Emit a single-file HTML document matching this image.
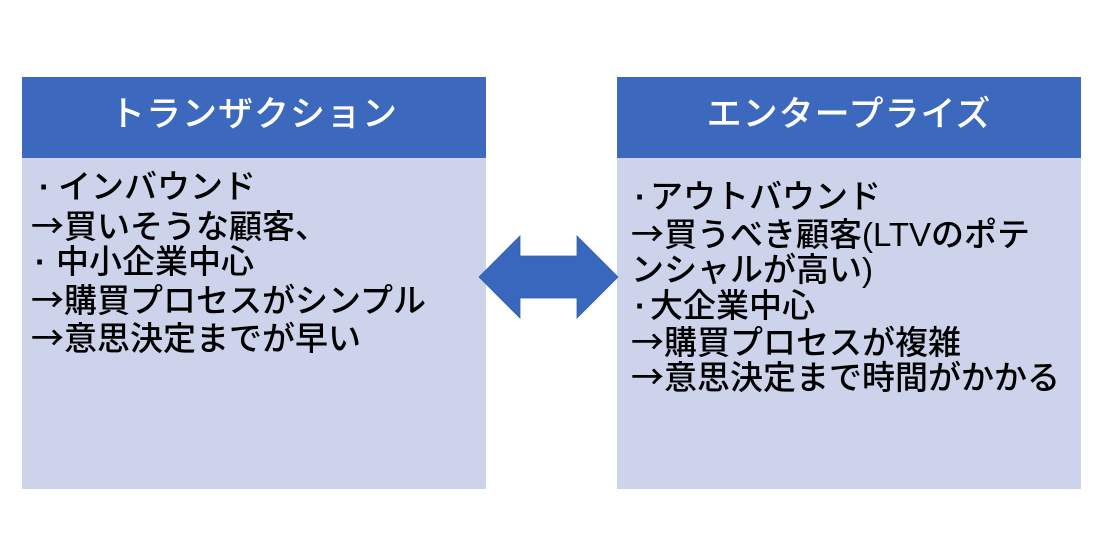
<!DOCTYPE html>
<html>
<head>
<meta charset="utf-8">
<style>
  html,body{margin:0;padding:0;}
  body{width:1110px;height:533px;background:#ffffff;position:relative;overflow:hidden;
       font-family:"Liberation Sans","Noto Sans CJK JP",sans-serif;}
  .hdr{position:absolute;background:#3C68BD;}
  .bdy{position:absolute;background:#CCD3EA;}
  .ttl{position:absolute;color:#ffffff;font-size:35px;line-height:40px;height:40px;font-weight:500;
       text-align:center;letter-spacing:1px;white-space:nowrap;}
  .ln{position:absolute;font-size:33px;line-height:37px;height:37px;color:#000;font-weight:500;
      white-space:nowrap;}
  .d{display:inline-block;box-sizing:border-box;vertical-align:baseline;font-weight:700;}
  .ar{font-family:"Noto Sans CJK JP",sans-serif;}
</style>
</head>
<body>
  <!-- Left box -->
  <div class="hdr" style="left:22px;top:77px;width:464px;height:81px;"></div>
  <div class="bdy" style="left:22px;top:158px;width:464px;height:331px;"></div>
  <div class="ttl" style="left:22px;top:95px;width:464px;">トランザクション</div>

  <div class="ln" style="left:31px;top:168px;"><span class="d" style="width:27px;padding-left:8px;">·</span>インバウンド</div>
  <div class="ln" style="left:31px;top:206px;"><span class="ar">→</span>買いそうな顧客、</div>
  <div class="ln" style="left:31px;top:243px;"><span class="d" style="width:25px;padding-left:4px;">·</span>中小企業中心</div>
  <div class="ln" style="left:31px;top:280px;"><span class="ar">→</span>購買プロセスがシンプル</div>
  <div class="ln" style="left:31px;top:318px;"><span class="ar">→</span>意思決定までが早い</div>

  <!-- Right box -->
  <div class="hdr" style="left:617px;top:77px;width:464px;height:81px;"></div>
  <div class="bdy" style="left:617px;top:158px;width:464px;height:331px;"></div>
  <div class="ttl" style="left:617px;top:95px;width:464px;">エンタープライズ</div>

  <div class="ln" style="left:631px;top:178px;"><span class="d" style="width:19px;padding-left:4px;">·</span>アウトバウンド</div>
  <div class="ln" style="left:631px;top:214px;"><span class="ar">→</span>買うべき顧客(LTVのポテ</div>
  <div class="ln" style="left:631px;top:251px;">ンシャルが高い)</div>
  <div class="ln" style="left:631px;top:287px;"><span class="d" style="width:19px;padding-left:4px;">·</span>大企業中心</div>
  <div class="ln" style="left:631px;top:322px;"><span class="ar">→</span>購買プロセスが複雑</div>
  <div class="ln" style="left:631px;top:357px;"><span class="ar">→</span>意思決定まで時間がかかる</div>

  <!-- Double arrow -->
  <svg style="position:absolute;left:0;top:0;" width="1110" height="533" viewBox="0 0 1110 533">
    <polygon points="479,277 520,236 520,256 577,256 577,236 618,277 577,318 577,298 520,298 520,318"
             fill="#3A67BE" stroke="#35609F" stroke-width="0.8"/>
  </svg>
</body>
</html>
